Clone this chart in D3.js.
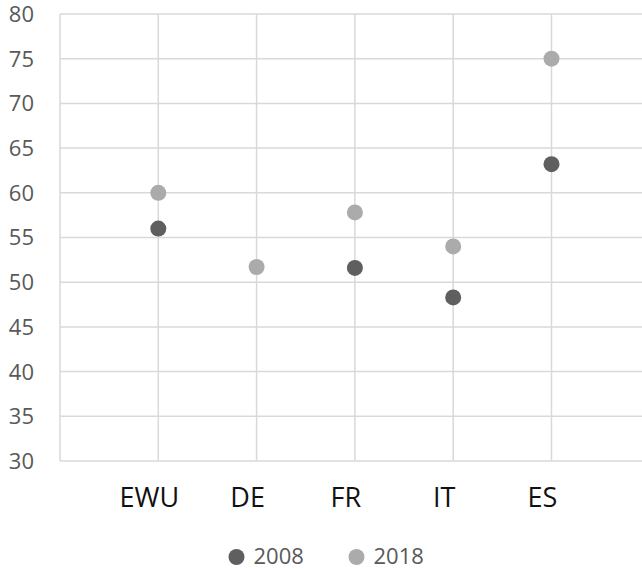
<!DOCTYPE html>
<html>
<head>
<meta charset="utf-8">
<script src="https://cdn.jsdelivr.net/npm/d3@7"></script>
<style>
  body { margin: 0; background: #fff; }
  svg { display: block; font-family: "Open Sans", sans-serif; }
</style>
</head>
<body>
<div id="chart"></div>
<script>
const categories = ["EWU", "DE", "FR", "IT", "ES"];
const values2008 = [56.0, null, 51.6, 48.3, 63.2];
const values2018 = [60.0, 51.7, 57.8, 54.0, 75.0];
const yTicks = [30, 35, 40, 45, 50, 55, 60, 65, 70, 75, 80];
const seriesNames = ["2008", "2018"];
const seriesColors = ["#5f5f5f", "#ababab"];

const width = 642;
const height = 569;
const margin = { top: 14, left: 60, bottom: 108 };

const svg = d3.select("#chart")
  .append("svg")
  .attr("width", width)
  .attr("height", height);

// x is a numeric axis (Excel scatter style), categories sit on 1..5
const x = d3.scaleLinear()
  .domain([0, 6])
  .range([margin.left, margin.left + 6 * 98.3]);

const y = d3.scaleLinear()
  .domain([30, 80])
  .range([height - margin.bottom, margin.top]);

const grid = svg.append("g");

grid.selectAll(".hgrid")
  .data(yTicks)
  .enter()
  .append("line")
  .attr("x1", x(0))
  .attr("x2", width)
  .attr("y1", d => y(d))
  .attr("y2", d => y(d))
  .attr("stroke", "#d9d9d9")
  .attr("stroke-width", 1.5);

grid.selectAll(".vgrid")
  .data(d3.range(0, 7))
  .enter()
  .append("line")
  .attr("x1", d => x(d))
  .attr("x2", d => x(d))
  .attr("y1", y(80))
  .attr("y2", y(30))
  .attr("stroke", "#d9d9d9")
  .attr("stroke-width", 1.5);

// y tick labels
svg.selectAll(".ylab")
  .data(yTicks)
  .enter()
  .append("text")
  .attr("x", 34)
  .attr("y", d => y(d))
  .attr("dy", "0.36em")
  .attr("text-anchor", "end")
  .style("font-size", "22px")
  .style("fill", "#595959")
  .text(d => d);

// category labels
svg.selectAll(".xlab")
  .data(categories)
  .enter()
  .append("text")
  .attr("x", (d, i) => x(i + 1) - 9)
  .attr("y", 507)
  .attr("text-anchor", "middle")
  .style("font-size", "27px")
  .style("fill", "#111")
  .text(d => d);

// points
[values2008, values2018].forEach((vals, s) => {
  svg.selectAll(".dot" + s)
    .data(vals.map((v, i) => ({ i: i, v: v })).filter(d => d.v != null))
    .enter()
    .append("circle")
    .attr("cx", d => x(d.i + 1))
    .attr("cy", d => y(d.v))
    .attr("r", 8)
    .attr("fill", seriesColors[s]);
});

// legend
const legendX = [236.5, 356.5];
seriesNames.forEach((name, s) => {
  svg.append("circle")
    .attr("cx", legendX[s])
    .attr("cy", 557)
    .attr("r", 8)
    .attr("fill", seriesColors[s]);
  svg.append("text")
    .attr("x", legendX[s] + 17)
    .attr("y", 564)
    .style("font-size", "22px")
    .style("fill", "#595959")
    .text(name);
});
</script>
</body>
</html>
